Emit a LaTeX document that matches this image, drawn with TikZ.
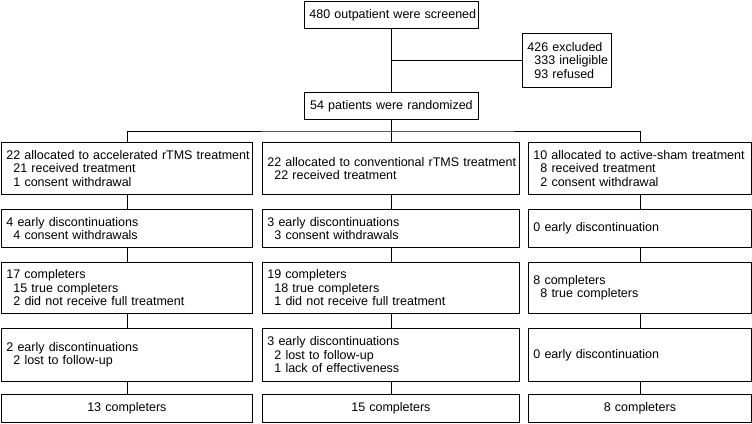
\documentclass[tikz,border=0pt]{standalone}
\usepackage{fontspec}
\setmainfont{Liberation Sans}
\begin{document}
\begin{tikzpicture}[x=1pt,y=-1pt,
  box/.style={draw, line width=0.8pt, inner xsep=5pt, inner ysep=0pt,
    font=\fontsize{12.5}{13.5}\selectfont, align=left, anchor=north west},
  cbox/.style={box, align=center},
  link/.style={line width=0.8pt}]
\useasboundingbox (0,0) rectangle (752,423);
\newcommand{\mkl}[1]{\mbox{#1}}
\newcommand{\ind}[1]{\mbox{\hspace*{7pt}#1}}
% top
\node[cbox, text width=164pt, minimum height=27pt] (top) at (304,1) {\mkl{480 outpatient were screened}};
\node[box, text width=79pt, minimum height=54pt] (excl) at (522,33) {\mkl{426 excluded}\\\ind{333 ineligible}\\\ind{93 refused}};
\node[cbox, text width=164pt, minimum height=27pt] (rand) at (304,92) {\mkl{54 patients were randomized}};
% row 1
\node[box, text width=241pt, minimum height=52pt] (a1) at (1,142) {\mkl{22 allocated to accelerated rTMS treatment}\\\ind{21 received treatment}\\\ind{1 consent withdrawal}};
\node[box, text width=247pt, minimum height=52pt] (b1) at (262,142) {\mkl{22 allocated to conventional rTMS treatment}\\\ind{22 received treatment}};
\node[box, text width=213pt, minimum height=52pt] (c1) at (528,142) {\mkl{10 allocated to active-sham treatment}\\\ind{8 received treatment}\\\ind{2 consent withdrawal}};
% row 2
\node[box, text width=241pt, minimum height=38pt] (a2) at (1,209) {\mkl{4 early discontinuations}\\\ind{4 consent withdrawals}};
\node[box, text width=247pt, minimum height=38pt] (b2) at (262,209) {\mkl{3 early discontinuations}\\\ind{3 consent withdrawals}};
\node[box, text width=213pt, minimum height=38pt] (c2) at (528,209) {\mkl{0 early discontinuation}};
% row 3
\node[box, text width=241pt, minimum height=51pt] (a3) at (1,262) {\mkl{17 completers}\\\ind{15 true completers}\\\ind{2 did not receive full treatment}};
\node[box, text width=247pt, minimum height=51pt] (b3) at (262,262) {\mkl{19 completers}\\\ind{18 true completers}\\\ind{1 did not receive full treatment}};
\node[box, text width=213pt, minimum height=51pt] (c3) at (528,262) {\mkl{8 completers}\\\ind{8 true completers}};
% row 4
\node[box, text width=241pt, minimum height=53pt] (a4) at (1,328) {\mkl{2 early discontinuations}\\\ind{2 lost to follow-up}};
\node[box, text width=247pt, minimum height=53pt] (b4) at (262,328) {\mkl{3 early discontinuations}\\\ind{2 lost to follow-up}\\\ind{1 lack of effectiveness}};
\node[box, text width=213pt, minimum height=53pt] (c4) at (528,328) {\mkl{0 early discontinuation}};
% row 5
\node[cbox, text width=241pt, minimum height=28pt] (a5) at (1,394) {13 completers};
\node[cbox, text width=247pt, minimum height=28pt] (b5) at (262,394) {15 completers};
\node[cbox, text width=213pt, minimum height=28pt] (c5) at (528,394) {8 completers};
% connectors
\draw[link] (top.south) -- (rand.north);
\draw[link] (top.south |- excl.west) -- (excl.west);
\coordinate (spl) at (rand.south |- 0,131);
\draw[link] (rand.south) -- (spl);
\draw[link] (a1.north) |- (spl) -| (c1.north);
\draw[link] (b1.north) -- (b1.north |- spl);
\foreach \c in {a,b,c}{
  \draw[link] (\c1.south) -- (\c2.north);
  \draw[link] (\c2.south) -- (\c3.north);
  \draw[link] (\c3.south) -- (\c4.north);
  \draw[link] (\c4.south) -- (\c5.north);
}
\end{tikzpicture}
\end{document}
